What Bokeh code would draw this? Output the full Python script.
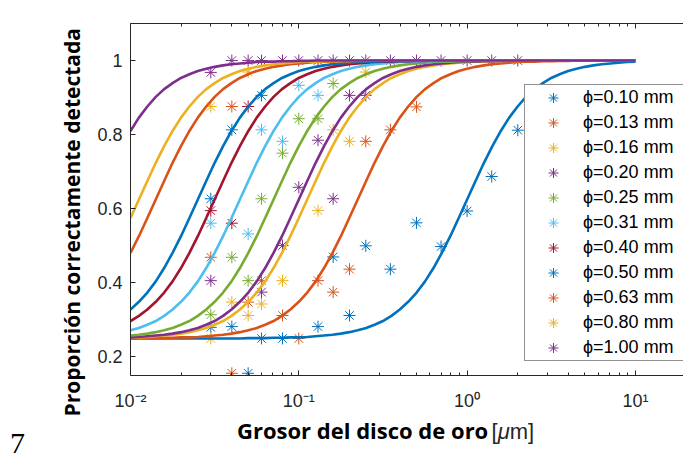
from bokeh.plotting import figure
from bokeh.layouts import column
from bokeh.models import Range1d, LogAxis, FixedTicker, Legend, LegendItem, Title, Div
from bokeh.embed import file_html
from bokeh.resources import INLINE

# ---------------- data ----------------
series_labels = ["ϕ=0.10 mm", "ϕ=0.13 mm", "ϕ=0.16 mm", "ϕ=0.20 mm", "ϕ=0.25 mm",
                 "ϕ=0.31 mm", "ϕ=0.40 mm", "ϕ=0.50 mm", "ϕ=0.63 mm", "ϕ=0.80 mm",
                 "ϕ=1.00 mm"]
series_colors = ["#0072BD", "#D95319", "#EDB120", "#7E2F8E", "#77AC30",
                 "#4DBEEE", "#A2142F", "#0072BD", "#D95319", "#EDB120", "#7E2F8E"]

# thickness grid of the fitted curves (um)
fit_x = [0.01, 0.01122, 0.01259, 0.01413, 0.01585, 0.01778, 0.01995, 0.02239, 0.02512, 0.02818,
         0.03162, 0.03548, 0.03981, 0.04467, 0.05012, 0.05623, 0.0631, 0.07079, 0.07943, 0.08913,
         0.1, 0.1122, 0.1259, 0.1413, 0.1585, 0.1778, 0.1995, 0.2239, 0.2512, 0.2818,
         0.3162, 0.3548, 0.3981, 0.4467, 0.5012, 0.5623, 0.631, 0.7079, 0.7943, 0.8913,
         1.0, 1.122, 1.259, 1.413, 1.585, 1.778, 1.995, 2.239, 2.512, 2.818,
         3.162, 3.548, 3.981, 4.467, 5.012, 5.623, 6.31, 7.079, 7.943, 8.913, 10.0]

fit_010 = [0.250, 0.250, 0.250, 0.250, 0.250, 0.250, 0.250, 0.250, 0.250, 0.250,
           0.250, 0.250, 0.250, 0.250, 0.251, 0.251, 0.251, 0.252, 0.252, 0.253,
           0.253, 0.254, 0.256, 0.258, 0.260, 0.263, 0.267, 0.272, 0.278, 0.287,
           0.297, 0.311, 0.328, 0.349, 0.374, 0.404, 0.440, 0.481, 0.526, 0.575,
           0.625, 0.675, 0.724, 0.769, 0.810, 0.846, 0.876, 0.902, 0.923, 0.939,
           0.953, 0.963, 0.972, 0.978, 0.983, 0.987, 0.990, 0.992, 0.994, 0.996, 0.997]
fit_013 = [0.250, 0.251, 0.251, 0.251, 0.252, 0.252, 0.253, 0.253, 0.254, 0.256,
           0.258, 0.260, 0.263, 0.267, 0.272, 0.278, 0.287, 0.297, 0.311, 0.328,
           0.349, 0.374, 0.404, 0.440, 0.481, 0.526, 0.575, 0.625, 0.675, 0.724,
           0.769, 0.810, 0.846, 0.876, 0.902, 0.923, 0.939, 0.953, 0.963, 0.972,
           0.978, 0.983, 0.987, 0.990, 0.992, 0.994, 0.996, 0.997, 0.997, 0.998,
           0.998, 0.999, 0.999, 1.0, 1.0, 1.0, 1.0, 1.0, 1.0, 1.0, 1.0]
fit_016 = [0.253, 0.253, 0.254, 0.256, 0.258, 0.260, 0.263, 0.267, 0.272, 0.278,
           0.287, 0.297, 0.311, 0.328, 0.349, 0.374, 0.404, 0.440, 0.481, 0.526,
           0.575, 0.625, 0.675, 0.724, 0.769, 0.810, 0.846, 0.876, 0.902, 0.923,
           0.939, 0.953, 0.963, 0.972, 0.978, 0.983, 0.987, 0.990, 0.992, 0.994,
           0.996, 0.997, 0.997, 0.998, 0.998, 0.999, 0.999, 1.0, 1.0, 1.0,
           1.0, 1.0, 1.0, 1.0, 1.0, 1.0, 1.0, 1.0, 1.0, 1.0, 1.0]
fit_020 = [0.253, 0.254, 0.256, 0.258, 0.260, 0.263, 0.267, 0.272, 0.278, 0.287,
           0.297, 0.311, 0.328, 0.349, 0.374, 0.404, 0.440, 0.481, 0.526, 0.575,
           0.625, 0.675, 0.724, 0.769, 0.810, 0.846, 0.876, 0.902, 0.923, 0.939,
           0.953, 0.963, 0.972, 0.978, 0.983, 0.987, 0.990, 0.992, 0.994, 0.996,
           0.997, 0.997, 0.998, 0.998, 0.999, 0.999, 1.0, 1.0, 1.0, 1.0,
           1.0, 1.0, 1.0, 1.0, 1.0, 1.0, 1.0, 1.0, 1.0, 1.0, 1.0]
fit_025 = [0.258, 0.260, 0.263, 0.267, 0.272, 0.278, 0.287, 0.297, 0.311, 0.328,
           0.349, 0.374, 0.404, 0.440, 0.481, 0.526, 0.575, 0.625, 0.675, 0.724,
           0.769, 0.810, 0.846, 0.876, 0.902, 0.923, 0.939, 0.953, 0.963, 0.972,
           0.978, 0.983, 0.987, 0.990, 0.992, 0.994, 0.996, 0.997, 0.997, 0.998,
           0.998, 0.999, 0.999, 1.0, 1.0, 1.0, 1.0, 1.0, 1.0, 1.0,
           1.0, 1.0, 1.0, 1.0, 1.0, 1.0, 1.0, 1.0, 1.0, 1.0, 1.0]
fit_031 = [0.272, 0.278, 0.287, 0.297, 0.311, 0.328, 0.349, 0.374, 0.404, 0.440,
           0.481, 0.526, 0.575, 0.625, 0.675, 0.724, 0.769, 0.810, 0.846, 0.876,
           0.902, 0.923, 0.939, 0.953, 0.963, 0.972, 0.978, 0.983, 0.987, 0.990,
           0.992, 0.994, 0.996, 0.997, 0.997, 0.998, 0.998, 0.999, 0.999, 1.0,
           1.0, 1.0, 1.0, 1.0, 1.0, 1.0, 1.0, 1.0, 1.0, 1.0,
           1.0, 1.0, 1.0, 1.0, 1.0, 1.0, 1.0, 1.0, 1.0, 1.0, 1.0]
fit_040 = [0.297, 0.311, 0.328, 0.349, 0.374, 0.404, 0.440, 0.481, 0.526, 0.575,
           0.625, 0.675, 0.724, 0.769, 0.810, 0.846, 0.876, 0.902, 0.923, 0.939,
           0.953, 0.963, 0.972, 0.978, 0.983, 0.987, 0.990, 0.992, 0.994, 0.996,
           0.997, 0.997, 0.998, 0.998, 0.999, 0.999, 1.0, 1.0, 1.0, 1.0,
           1.0, 1.0, 1.0, 1.0, 1.0, 1.0, 1.0, 1.0, 1.0, 1.0,
           1.0, 1.0, 1.0, 1.0, 1.0, 1.0, 1.0, 1.0, 1.0, 1.0, 1.0]
fit_050 = [0.328, 0.349, 0.374, 0.404, 0.440, 0.481, 0.526, 0.575, 0.625, 0.675,
           0.724, 0.769, 0.810, 0.846, 0.876, 0.902, 0.923, 0.939, 0.953, 0.963,
           0.972, 0.978, 0.983, 0.987, 0.990, 0.992, 0.994, 0.996, 0.997, 0.997,
           0.998, 0.998, 0.999, 0.999, 1.0, 1.0, 1.0, 1.0, 1.0, 1.0,
           1.0, 1.0, 1.0, 1.0, 1.0, 1.0, 1.0, 1.0, 1.0, 1.0,
           1.0, 1.0, 1.0, 1.0, 1.0, 1.0, 1.0, 1.0, 1.0, 1.0, 1.0]
fit_063 = [0.481, 0.526, 0.575, 0.625, 0.675, 0.724, 0.769, 0.810, 0.846, 0.876,
           0.902, 0.923, 0.939, 0.953, 0.963, 0.972, 0.978, 0.983, 0.987, 0.990,
           0.992, 0.994, 0.996, 0.997, 0.997, 0.998, 0.998, 0.999, 0.999, 1.0,
           1.0, 1.0, 1.0, 1.0, 1.0, 1.0, 1.0, 1.0, 1.0, 1.0,
           1.0, 1.0, 1.0, 1.0, 1.0, 1.0, 1.0, 1.0, 1.0, 1.0,
           1.0, 1.0, 1.0, 1.0, 1.0, 1.0, 1.0, 1.0, 1.0, 1.0, 1.0]
fit_080 = [0.575, 0.625, 0.675, 0.724, 0.769, 0.810, 0.846, 0.876, 0.902, 0.923,
           0.939, 0.953, 0.963, 0.972, 0.978, 0.983, 0.987, 0.990, 0.992, 0.994,
           0.996, 0.997, 0.997, 0.998, 0.998, 0.999, 0.999, 1.0, 1.0, 1.0,
           1.0, 1.0, 1.0, 1.0, 1.0, 1.0, 1.0, 1.0, 1.0, 1.0,
           1.0, 1.0, 1.0, 1.0, 1.0, 1.0, 1.0, 1.0, 1.0, 1.0,
           1.0, 1.0, 1.0, 1.0, 1.0, 1.0, 1.0, 1.0, 1.0, 1.0, 1.0]
fit_100 = [0.810, 0.846, 0.876, 0.902, 0.923, 0.939, 0.953, 0.963, 0.972, 0.978,
           0.983, 0.987, 0.990, 0.992, 0.994, 0.996, 0.997, 0.997, 0.998, 0.998,
           0.999, 0.999, 1.0, 1.0, 1.0, 1.0, 1.0, 1.0, 1.0, 1.0,
           1.0, 1.0, 1.0, 1.0, 1.0, 1.0, 1.0, 1.0, 1.0, 1.0,
           1.0, 1.0, 1.0, 1.0, 1.0, 1.0, 1.0, 1.0, 1.0, 1.0,
           1.0, 1.0, 1.0, 1.0, 1.0, 1.0, 1.0, 1.0, 1.0, 1.0, 1.0]

# measured proportions (thickness um, proportion)
pts_010_x = [0.03, 0.04, 0.05, 0.06, 0.08, 0.13, 0.16, 0.2, 0.25, 0.35, 0.5, 0.7, 1.0, 1.4, 2.0]
pts_010_y = [0.28, 0.282, 0.156, 0.25, 0.25, 0.282, 0.47, 0.312, 0.50, 0.437, 0.562, 0.498, 0.594, 0.687, 0.812]
pts_013_x = [0.04, 0.05, 0.06, 0.08, 0.1, 0.13, 0.16, 0.2, 0.25, 0.35, 0.5]
pts_013_y = [0.156, 0.348, 0.406, 0.312, 0.25, 0.406, 0.375, 0.437, 0.782, 0.813, 0.875]
pts_016_x = [0.03, 0.04, 0.05, 0.06, 0.08, 0.13, 0.16, 0.2, 0.25]
pts_016_y = [0.25, 0.348, 0.312, 0.343, 0.406, 0.595, 0.813, 0.782, 0.969]
pts_020_x = [0.03, 0.06, 0.08, 0.1, 0.13, 0.16, 0.2, 0.25]
pts_020_y = [0.406, 0.375, 0.501, 0.658, 0.785, 0.627, 0.906, 0.906]
pts_025_x = [0.03, 0.04, 0.05, 0.06, 0.08, 0.1, 0.13, 0.16]
pts_025_y = [0.314, 0.469, 0.406, 0.627, 0.75, 0.843, 0.843, 0.938]
pts_031_x = [0.03, 0.05, 0.06, 0.08, 0.1, 0.13]
pts_031_y = [0.561, 0.532, 0.813, 0.782, 0.933, 0.906]
pts_040_x = [0.03, 0.04, 0.05]
pts_040_y = [0.595, 0.561, 0.876]
pts_050_x = [0.03, 0.04, 0.06]
pts_050_y = [0.627, 0.813, 0.906]
pts_063_x = [0.03, 0.04]
pts_063_y = [0.469, 0.876]
pts_080_x = [0.03, 0.05]
pts_080_y = [0.876, 0.969]
pts_100_x = [0.03, 0.04, 0.05, 0.06, 0.08, 0.1, 0.13, 0.16, 0.2, 0.25, 0.35, 0.5, 0.7, 1.0, 1.4, 2.0]
pts_100_y = [0.968, 1.0, 1.0, 1.0, 1.0, 1.0, 1.0, 1.0, 1.0, 1.0, 1.0, 1.0, 1.0, 1.0, 1.0, 1.0]

x_major_ticks = [0.01, 0.1, 1, 10]
x_minor_ticks = [0.02, 0.03, 0.04, 0.05, 0.06, 0.07, 0.08, 0.09,
                 0.2, 0.3, 0.4, 0.5, 0.6, 0.7, 0.8, 0.9,
                 2, 3, 4, 5, 6, 7, 8, 9]
x_tick_labels = ["10⁻²", "10⁻¹", "10⁰", "10¹"]
y_ticks = [0.2, 0.4, 0.6, 0.8, 1.0]
y_tick_labels = ["0.2", "0.4", "0.6", "0.8", "1"]

fits = [fit_010, fit_013, fit_016, fit_020, fit_025, fit_031, fit_040, fit_050, fit_063, fit_080, fit_100]
pts = [(pts_010_x, pts_010_y), (pts_013_x, pts_013_y), (pts_016_x, pts_016_y), (pts_020_x, pts_020_y),
       (pts_025_x, pts_025_y), (pts_031_x, pts_031_y), (pts_040_x, pts_040_y), (pts_050_x, pts_050_y),
       (pts_063_x, pts_063_y), (pts_080_x, pts_080_y), (pts_100_x, pts_100_y)]

# ---------------- figure ----------------
AX = "#262626"
p = figure(width=683, height=415, x_axis_type="log", output_backend="svg", toolbar_location=None,
           x_range=Range1d(0.01, 19.3), y_range=Range1d(0.15, 1.1),
           min_border_left=130, min_border_right=0, min_border_top=23, min_border_bottom=40)
p.outline_line_color = None
p.xgrid.visible = False
p.ygrid.visible = False
p.background_fill_color = "white"
p.border_fill_color = "white"

xticker = FixedTicker(ticks=x_major_ticks, minor_ticks=x_minor_ticks)
xa = p.xaxis[0]
xa.ticker = xticker
xa.major_label_overrides = {t: l for t, l in zip(x_major_ticks, x_tick_labels)}
xa.major_label_text_font = "Liberation Sans"
xa.major_label_text_font_size = "18px"
xa.major_label_text_color = AX
xa.major_label_standoff = 15
top = LogAxis(ticker=xticker, major_label_text_font_size="8px", major_label_text_alpha=0.0,
              major_label_standoff=0)
p.add_layout(top, "above")
ya = p.yaxis[0]
ya.ticker = FixedTicker(ticks=y_ticks)
ya.major_label_overrides = {t: l for t, l in zip(y_ticks, y_tick_labels)}
ya.major_label_text_font = "Liberation Sans"
ya.major_label_text_font_size = "18px"
ya.major_label_text_color = AX
ya.major_label_standoff = 8
for ax in [xa, top, ya]:
    ax.axis_line_color = AX
    ax.major_tick_line_color = AX
    ax.major_tick_in = 5
    ax.major_tick_out = 0
    ax.minor_tick_in = 3
    ax.minor_tick_out = 0
    ax.minor_tick_line_color = AX
ya.minor_tick_line_color = None

scatter_renderers = []
for (px, py), col in zip(pts, series_colors):
    r = p.scatter(px, py, marker="asterisk", size=12, line_color=col, line_width=1)
    scatter_renderers.append(r)
for fy, col in zip(fits, series_colors):
    p.line(fit_x, fy, line_color=col, line_width=2.6)

legend = Legend(items=[LegendItem(label=l, renderers=[r]) for l, r in zip(series_labels, scatter_renderers)],
                location=(394, 14), padding=0, spacing=0, margin=0,
                glyph_height=25, glyph_width=56, label_height=25, label_width=100, label_standoff=2,
                border_line_color=AX, border_line_width=1, background_fill_color="white",
                background_fill_alpha=1.0, label_text_font="Liberation Sans",
                label_text_font_size="18px", label_text_color="black")
p.add_layout(legend)

# y axis title
p.add_layout(Title(text="Proporción correctamente detectada", align="left", offset=-41, standoff=18,
                   text_font="Open Sans", text_font_style="bold", text_font_size="21px",
                   text_color="black"), "left")

# x axis title (bold + regular parts) and the page number below the plot
bottom_html = (
    '<div style="position:relative;width:683px;height:44px;background:white;overflow:visible;">'
    '<span style="position:absolute;left:10px;top:13px;line-height:1;font-family:\'Liberation Serif\';'
    'font-size:30px;color:black;">7</span>'
    '<span style="position:absolute;left:237px;top:4px;line-height:1;white-space:nowrap;">'
    '<span style="font-family:\'Open Sans\';font-weight:bold;font-size:22px;color:black;">'
    'Grosor del disco de oro</span>&nbsp;'
    '<span style="font-family:\'Liberation Sans\';font-size:22px;color:#262626;">[<i>μ</i>m]</span>'
    '</span></div>'
)
bottom = Div(text=bottom_html, width=683, height=44, margin=0)

layout = column(p, bottom, spacing=0)
open("out.html", "w").write(file_html(layout, INLINE))
